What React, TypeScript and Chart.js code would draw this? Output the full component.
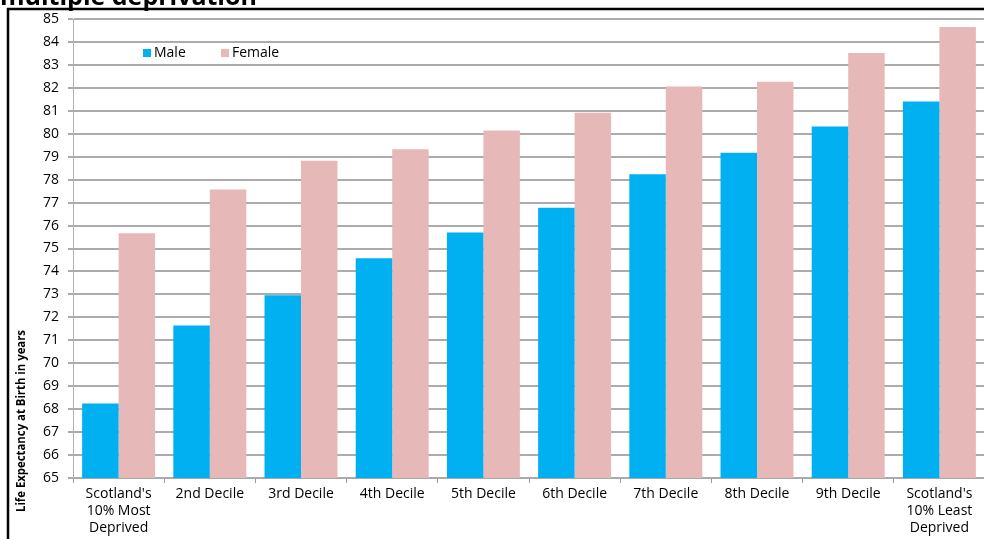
import React, { useEffect, useRef } from "react";
import { Chart, registerables } from "chart.js";

Chart.register(...registerables);

// Deprivation deciles, from most to least deprived
const categories: (string | string[])[] = [
  ["Scotland's", "10% Most", "Deprived"],
  "2nd Decile",
  "3rd Decile",
  "4th Decile",
  "5th Decile",
  "6th Decile",
  "7th Decile",
  "8th Decile",
  "9th Decile",
  ["Scotland's", "10% Least", "Deprived"],
];

// Life expectancy at birth (years)
const maleValues = [68.25, 71.65, 72.96, 74.58, 75.7, 76.78, 78.23, 79.17, 80.32, 81.4];
const femaleValues = [75.66, 77.57, 78.82, 79.32, 80.14, 80.92, 82.06, 82.27, 83.52, 84.65];

const seriesNames = ["Male", "Female"];
const seriesColors = ["#00B0F0", "#E6B9B8"];

const yMin = 65;
const yMax = 85;

const titleText = "multiple deprivation";
const yAxisTitle = "Life Expectancy at Birth in years";

const FONT = '"Open Sans", "DejaVu Sans", sans-serif';

const W = 1000;
const H = 560;

// Frame, heading, rotated axis caption and in-plot legend
const decorPlugin = {
  id: "decor",
  afterDraw(chart: any) {
    const ctx = chart.ctx as CanvasRenderingContext2D;
    ctx.save();

    // heading (its upper part lies above the page)
    ctx.fillStyle = "#000";
    ctx.font = `bold 25px ${FONT}`;
    ctx.textBaseline = "alphabetic";
    ctx.textAlign = "left";
    ctx.fillText(titleText, 0, 5);

    // chart frame
    ctx.strokeStyle = "#000";
    ctx.lineWidth = 2.5;
    ctx.beginPath();
    ctx.moveTo(W, 9);
    ctx.lineTo(8, 9);
    ctx.lineTo(8, H);
    ctx.stroke();

    // y axis caption, condensed bold
    ctx.save();
    ctx.font = `bold 13px ${FONT}`;
    const captionLen = 182;
    const measured = ctx.measureText(yAxisTitle).width;
    ctx.translate(21, 421);
    ctx.rotate(-Math.PI / 2);
    ctx.scale(captionLen / measured, 1);
    ctx.textAlign = "center";
    ctx.textBaseline = "middle";
    ctx.fillStyle = "#000";
    ctx.fillText(yAxisTitle, 0, 0);
    ctx.restore();

    // legend
    const items = chart.data.datasets.map((d: any) => ({ label: d.label, color: d.backgroundColor }));
    const legendX = [143, 221];
    ctx.font = `14px ${FONT}`;
    ctx.textBaseline = "middle";
    ctx.textAlign = "left";
    items.forEach((it: any, i: number) => {
      const x = legendX[i];
      ctx.fillStyle = it.color;
      ctx.fillRect(x, 49, 8, 8);
      ctx.fillStyle = "#000";
      ctx.fillText(it.label, x + 11, 53);
    });

    ctx.restore();
  },
};

export default function App() {
  const canvasRef = useRef<HTMLCanvasElement | null>(null);

  useEffect(() => {
    const canvas = canvasRef.current;
    if (!canvas) return;
    const chart = new Chart(canvas, {
      type: "bar",
      data: {
        labels: categories,
        datasets: [
          {
            label: seriesNames[0],
            data: maleValues,
            backgroundColor: seriesColors[0],
            categoryPercentage: 0.8,
            barPercentage: 1.0,
          },
          {
            label: seriesNames[1],
            data: femaleValues,
            backgroundColor: seriesColors[1],
            categoryPercentage: 0.8,
            barPercentage: 1.0,
          },
        ],
      },
      options: {
        responsive: false,
        animation: false,
        devicePixelRatio: 1,
        layout: { padding: { left: 8, right: 15, top: 19, bottom: 0 } },
        plugins: {
          legend: { display: false },
          tooltip: { enabled: false },
          title: { display: false },
        },
        scales: {
          x: {
            afterFit(scale: any) {
              scale.height = H - 478;
            },
            grid: {
              display: true,
              drawOnChartArea: false,
              drawTicks: true,
              tickLength: 5,
              offset: true,
              color: "#9a9a9a",
              lineWidth: 1,
            },
            border: { display: true, color: "#a8a8a8", width: 1 },
            ticks: {
              color: "#000",
              padding: 3,
              maxRotation: 0,
              autoSkip: false,
              font: { family: FONT, size: 14, lineHeight: 1.2 },
            },
          },
          y: {
            min: yMin,
            max: yMax,
            afterFit(scale: any) {
              scale.width = 65;
            },
            grid: {
              color: "#ababab",
              lineWidth: 2,
              drawTicks: true,
              tickLength: 5,
            },
            border: { display: true, color: "#b0b0b0", width: 1 },
            ticks: {
              stepSize: 1,
              color: "#000",
              padding: 9,
              font: { family: FONT, size: 14 },
            },
          },
        },
      },
      plugins: [decorPlugin],
    });
    return () => chart.destroy();
  }, []);

  return (
    <div
      style={{
        position: "fixed",
        left: 0,
        top: 0,
        width: 984,
        height: 539,
        overflow: "hidden",
        background: "#fff",
      }}
    >
      <canvas ref={canvasRef} width={W} height={H} style={{ display: "block" }} />
    </div>
  );
}
